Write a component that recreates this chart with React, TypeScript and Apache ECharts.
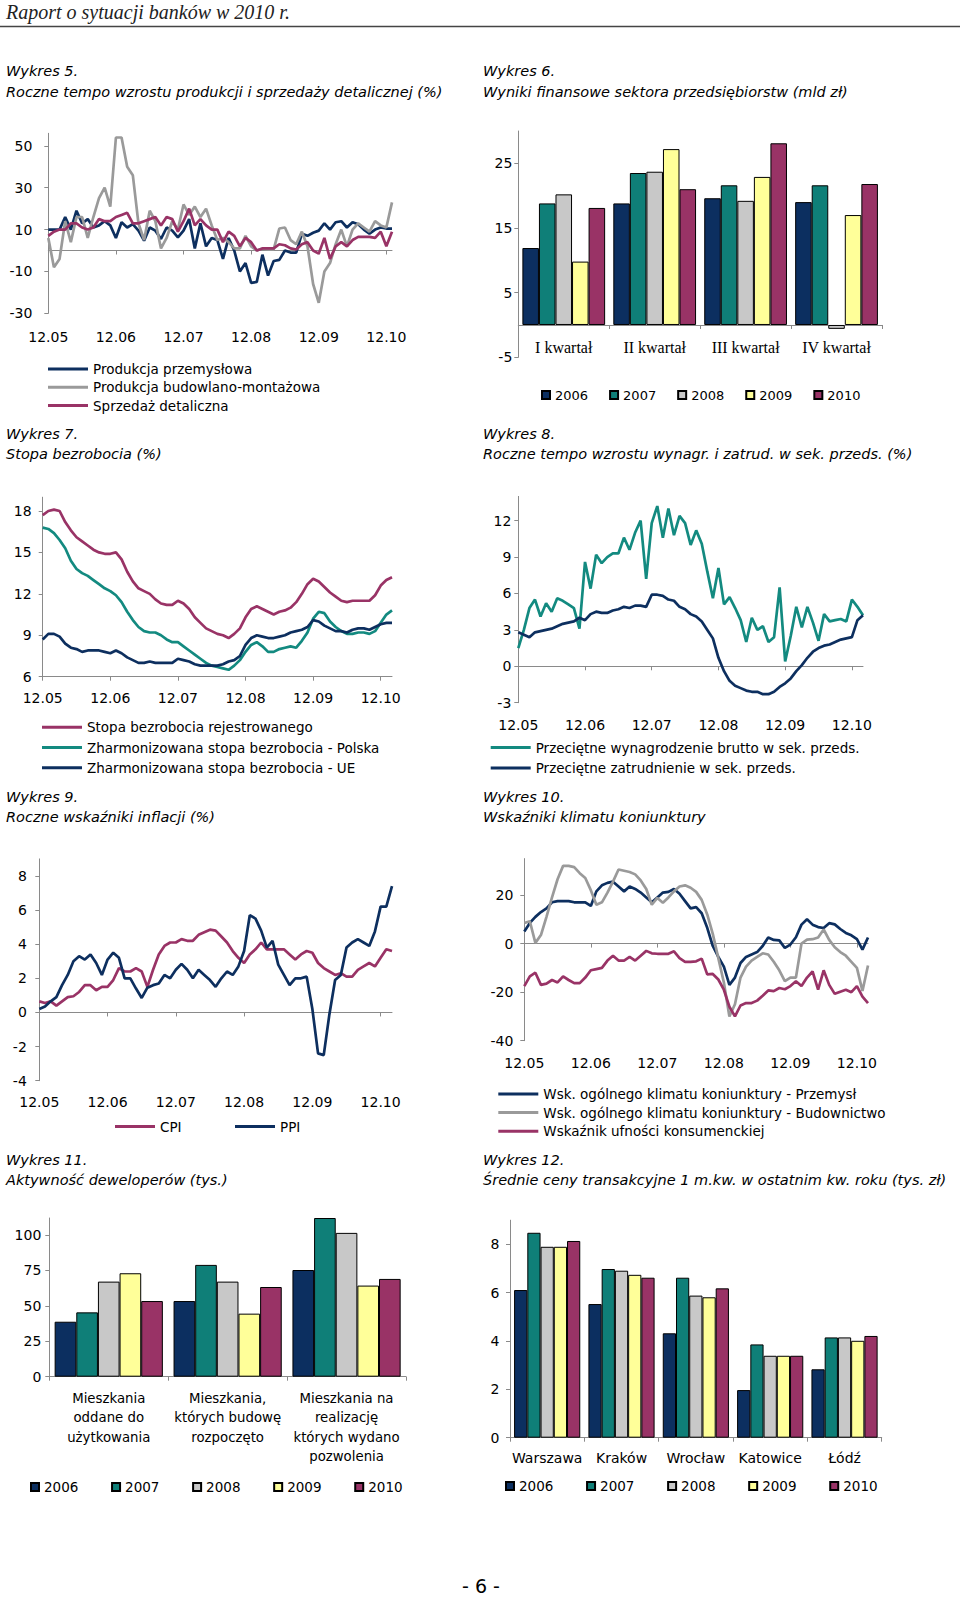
import React, { useEffect, useRef } from "react";
import * as echarts from "echarts";

const FONT = "DejaVu Sans";
const AXIS_COLOR = "#8a8a8a";
const NAVY = "#0d2f5f";
const GRAY_LINE = "#9a9a9a";
const MAROON = "#993366";
const TEAL = "#138a80";
const BAR_COLORS = ["#0c2f60", "#0f7f78", "#c8c8c8", "#ffff99", "#993366"];

const MONTHS = [
  "12.05",
  "01.06", "02.06", "03.06", "04.06", "05.06", "06.06", "07.06", "08.06", "09.06", "10.06", "11.06", "12.06",
  "01.07", "02.07", "03.07", "04.07", "05.07", "06.07", "07.07", "08.07", "09.07", "10.07", "11.07", "12.07",
  "01.08", "02.08", "03.08", "04.08", "05.08", "06.08", "07.08", "08.08", "09.08", "10.08", "11.08", "12.08",
  "01.09", "02.09", "03.09", "04.09", "05.09", "06.09", "07.09", "08.09", "09.09", "10.09", "11.09", "12.09",
  "01.10", "02.10", "03.10", "04.10", "05.10", "06.10", "07.10", "08.10", "09.10", "10.10", "11.10", "12.10",
  "01.11", "02.11",
];
// Wykres 5 ends one month earlier (01.11)
const MONTHS_W5 = [
  "12.05",
  "01.06", "02.06", "03.06", "04.06", "05.06", "06.06", "07.06", "08.06", "09.06", "10.06", "11.06", "12.06",
  "01.07", "02.07", "03.07", "04.07", "05.07", "06.07", "07.07", "08.07", "09.07", "10.07", "11.07", "12.07",
  "01.08", "02.08", "03.08", "04.08", "05.08", "06.08", "07.08", "08.08", "09.08", "10.08", "11.08", "12.08",
  "01.09", "02.09", "03.09", "04.09", "05.09", "06.09", "07.09", "08.09", "09.09", "10.09", "11.09", "12.09",
  "01.10", "02.10", "03.10", "04.10", "05.10", "06.10", "07.10", "08.10", "09.10", "10.10", "11.10", "12.10",
  "01.11",
];

// Wykres 5
const PROD_PRZEM = [
  10, 10, 10, 16, 10, 19, 13, 15, 11, 12,
  14, 12, 6, 13.5, 11, 12.6, 9.5, 4.7, 11, 9.5,
  5.5, 11, 9.5, 6.3, 9.5, 15, 1, 13, 2, 6,
  5, -4, 6, 0, -10, -6, -15.5, -15, -2, -12,
  -5, -4.5, 0, -1, -1, 8, 7, 8.5, 9.5,
  13, 10, 13.5, 14, 11, 13.5, 12.5, 10, 8, 10,
  11, 10.5, 10.5,
];
const PROD_BUD = [
  6, -8, -4, 14, 4, 16, 16, 6, 16, 25,
  30, 21, 54, 54, 40, 36, 13, 5, 19, 14,
  1, 6, 14, 10, 22, 17, 21, 16, 20, 12,
  5, 6, 4, 1, 1, 7, 2, 0, 1, 0.5,
  0.5, 10.5, 11, 5, 3, 9, 2, -16, -25,
  -10, -6, 3, 10, 2, 10, 13, 11, 9, 14,
  12, 11, 23,
];
const SPRZEDAZ = [
  7, 9, 10, 10, 13, 13, 11, 10, 11, 15,
  14, 14, 16, 17, 18, 13, 13, 14, 15, 16,
  12, 16, 15, 9, 14, 20, 12, 15, 12, 10,
  10, 4, 9, 7, 2, 6, 4, 0, 1, 1,
  1, 3, 2.5, 1, 0.5, 3, 4, 0, -1.5,
  6, -4, 2, 4, 2, 5, 6.5, 6.5, 6.5, 6,
  9, 2, 9,
];

// Wykres 6
const KWARTALY = ["I kwartał", "II kwartał", "III kwartał", "IV kwartał"];
const YEARS = ["2006", "2007", "2008", "2009", "2010"];
const WYNIKI_2006 = [11.9, 18.8, 19.6, 19.0];
const WYNIKI_2007 = [18.8, 23.5, 21.6, 21.6];
const WYNIKI_2008 = [20.2, 23.7, 19.2, -0.6];
const WYNIKI_2009 = [9.8, 27.2, 22.9, 17.0];
const WYNIKI_2010 = [18.1, 21.0, 28.1, 21.8];

// Wykres 7
const STOPA_REJ = [
  17.7, 18.0, 18.1, 18.0, 17.2, 16.6, 16.1, 15.8, 15.5, 15.2,
  15.0, 14.9, 14.9, 15.0, 14.5, 13.6, 12.9, 12.4, 12.2, 12.0,
  11.6, 11.3, 11.2, 11.2, 11.5, 11.3, 10.9, 10.3, 9.9, 9.5,
  9.3, 9.1, 9.0, 8.8, 9.1, 9.5, 10.3, 10.9, 11.1, 10.9,
  10.7, 10.5, 10.7, 10.8, 11.0, 11.4, 12.0, 12.7, 13.1, 12.9,
  12.5, 12.1, 11.8, 11.5, 11.4, 11.5, 11.5, 11.5, 11.5, 11.9,
  12.6, 13.0, 13.2,
];
const HICP_PL = [
  16.8, 16.7, 16.4, 15.9, 15.3, 14.4, 13.8, 13.5, 13.3, 13.0,
  12.7, 12.4, 12.2, 11.9, 11.4, 10.7, 10.1, 9.6, 9.3, 9.2,
  9.2, 9.0, 8.7, 8.5, 8.5, 8.2, 7.9, 7.6, 7.3, 7.0,
  6.8, 6.7, 6.6, 6.5, 6.8, 7.2, 7.8, 8.3, 8.5, 8.2,
  7.8, 7.8, 8.0, 8.1, 8.2, 8.1, 8.6, 9.2, 10.2, 10.7,
  10.6, 10.0, 9.6, 9.3, 9.1, 9.1, 9.2, 9.2, 9.1, 9.3,
  9.9, 10.5, 10.8,
];
const HICP_UE = [
  8.7, 9.1, 9.1, 8.9, 8.4, 8.1, 8.0, 7.8, 7.9, 7.9,
  7.9, 7.8, 7.7, 7.9, 7.7, 7.4, 7.2, 7.0, 7.0, 7.1,
  7.0, 7.0, 7.0, 7.0, 7.3, 7.2, 7.1, 6.9, 6.8, 6.8,
  6.8, 6.8, 6.9, 7.1, 7.2, 7.5, 8.3, 8.8, 9.0, 8.9,
  8.8, 8.8, 8.9, 9.0, 9.2, 9.3, 9.4, 9.6, 10.1, 10.0,
  9.7, 9.5, 9.3, 9.3, 9.2, 9.4, 9.5, 9.5, 9.4, 9.6,
  9.8, 9.9, 9.9,
];

// Wykres 8
const WYNAGR = [
  1.5, 3.0, 4.8, 5.5, 4.1, 5.2, 4.5, 5.6, 5.4, 5.1,
  4.8, 3.1, 8.6, 6.4, 9.2, 8.5, 9.0, 9.3, 9.3, 10.6,
  9.6, 11.0, 12.0, 7.2, 11.8, 13.2, 10.6, 13.0, 10.8, 12.4,
  11.8, 10.0, 11.2, 10.1, 7.8, 5.6, 8.1, 5.1, 5.7, 4.8,
  3.8, 2.0, 4.0, 3.0, 3.3, 2.0, 2.4, 6.5, 0.4, 2.5,
  4.9, 3.2, 4.9, 3.6, 2.1, 4.3, 3.7, 3.8, 3.9, 3.7,
  5.5, 4.9, 4.2,
];
const ZATRUD = [
  2.8, 2.6, 2.4, 2.8, 2.9, 3.0, 3.1, 3.3, 3.5, 3.6,
  3.7, 4.0, 3.8, 4.3, 4.5, 4.4, 4.4, 4.6, 4.7, 4.9,
  4.8, 5.0, 5.0, 4.9, 5.9, 5.9, 5.8, 5.5, 5.4, 4.9,
  4.7, 4.3, 4.1, 3.7, 3.0, 2.3, 0.7, -0.4, -1.2, -1.6,
  -1.8, -2.0, -2.1, -2.1, -2.3, -2.3, -2.1, -1.7, -1.4, -1.0,
  -0.4, 0.1, 0.7, 1.2, 1.5, 1.7, 1.8, 2.0, 2.2, 2.3,
  2.4, 3.8, 4.2,
];

// Wykres 9
const CPI = [
  0.65, 0.55, 0.65, 0.4, 0.65, 0.9, 0.95, 1.2, 1.6, 1.6,
  1.3, 1.5, 1.5, 1.9, 2.6, 2.4, 2.4, 2.6, 2.4, 1.5,
  2.5, 3.4, 3.9, 4.1, 4.1, 4.3, 4.2, 4.2, 4.55, 4.7,
  4.85, 4.8, 4.45, 4.1, 3.6, 3.2, 2.9, 3.4, 3.7, 4.1,
  3.7, 3.7, 3.7, 3.7, 3.4, 3.1, 3.4, 3.6, 3.5, 2.9,
  2.6, 2.4, 2.2, 2.3, 2.1, 2.1, 2.5, 2.7, 2.9, 2.7,
  3.2, 3.7, 3.6,
];
const PPI = [
  0.2, 0.35, 0.65, 0.9, 1.6, 2.2, 3.0, 3.3, 3.1, 3.4,
  2.9, 2.2, 3.1, 3.5, 3.2, 2.0, 2.0, 1.4, 0.85, 1.45,
  1.6, 1.7, 2.2, 2.0, 2.5, 2.85, 2.5, 2.0, 2.5, 2.2,
  1.9, 1.5, 2.0, 2.4, 2.2, 2.7, 3.6, 5.7, 5.5, 4.8,
  3.8, 4.2, 2.8, 2.2, 1.6, 2.0, 2.0, 2.1, 0.2, -2.4,
  -2.5, -0.1, 1.9, 2.2, 3.8, 4.1, 4.3, 4.1, 3.9, 4.75,
  6.2, 6.2, 7.4,
];

// Wykres 10
const KLIMAT_PRZEM = [
  5, 8.5, 11, 13, 14.5, 17, 17.5, 17.5, 17.5, 17,
  17, 17, 15.5, 21.5, 24, 25, 25.5, 23.5, 21.5, 23.5,
  22.5, 21, 19, 17, 19, 21, 21.3, 22.5, 20.5, 17.5,
  14.5, 15, 12.5, 6.5, -1, -5.5, -9.5, -17, -14, -8,
  -5.5, -4.5, -3.5, -1, 2.5, 1.5, 1.3, -1.8, -0.4, 2.6,
  7.8, 10, 7.8, 6.8, 6.4, 8.4, 7.9, 6, 4.4, 3.4,
  1.8, -2.5, 2.5,
];
const KLIMAT_BUD = [
  8.5, 9.2, 0.3, 3.5, 11, 19, 26.5, 32, 32, 31.5,
  29, 27, 22, 16, 17, 21, 25.5, 30.5, 30, 29.5,
  28.5, 26, 22.5, 16, 18.8, 16.8, 19, 21.5, 23.5, 24,
  23, 21.3, 18, 12, 4, -6, -16, -30, -25, -14,
  -9.5, -7, -5.5, -4, -4.5, -7.5, -11, -15.5, -14, -14,
  0, 1.6, 1.8, 2.5, 5.8, 1.5, -1.5, -3.5, -5, -7.5,
  -10, -19.5, -9,
];
const UFNOSC = [
  -17.5, -13.5, -12, -17, -16.5, -15, -16, -13.5, -15, -16.3,
  -16.3, -14, -11, -10.5, -10, -7, -5, -7, -7, -5.5,
  -7, -5, -3, -4, -4.2, -4.2, -4.2, -3.2, -6, -7.5,
  -7.5, -7.3, -6.2, -12.7, -12.5, -14.8, -19, -26, -30, -25.5,
  -24.5, -24.5, -23.5, -21.5, -19.3, -19.6, -18.3, -18.8, -17.5, -15.5,
  -17.5, -14, -11.5, -19, -11, -17, -20.7, -19.8, -19, -20,
  -17.5, -21.8, -24.5,
];

// Wykres 11
const MIESZKANIA = [
  "Mieszkania\noddane do\nużytkowania",
  "Mieszkania,\nktórych budowę\nrozpoczęto",
  "Mieszkania na\nrealizację\nktórych wydano\npozwolenia",
];
const DEW_2006 = [38.8, 53.4, 75.3];
const DEW_2007 = [45.4, 78.9, 112];
const DEW_2008 = [67.1, 67.1, 101.5];
const DEW_2009 = [73.0, 44.5, 64.3];
const DEW_2010 = [53.4, 63.3, 69.0];

// Wykres 12
const MIASTA = ["Warszawa", "Kraków", "Wrocław", "Katowice", "Łódź"];
const CENY_2006 = [6.11, 5.53, 4.32, 1.97, 2.83];
const CENY_2007 = [8.48, 6.98, 6.62, 3.86, 4.15];
const CENY_2008 = [7.9, 6.91, 5.88, 3.39, 4.15];
const CENY_2009 = [7.9, 6.74, 5.81, 3.39, 4.01];
const CENY_2010 = [8.14, 6.62, 6.18, 3.39, 4.21];

function valueAxis(gridIndex: number, min: number, max: number, interval: number, margin: number) {
  return {
    type: "value",
    gridIndex,
    min,
    max,
    interval,
    axisLine: { show: true, lineStyle: { color: AXIS_COLOR, width: 1 } },
    axisTick: { show: true, length: 4, lineStyle: { color: AXIS_COLOR } },
    splitLine: { show: false },
    axisLabel: { showMaxLabel: false, color: "#000", fontFamily: FONT, fontSize: 14, margin },
  };
}

function monthLabelAxis(gridIndex: number, margin: number, data: string[]) {
  return {
    type: "category",
    gridIndex,
    data,
    boundaryGap: false,
    position: "bottom",
    axisLine: { show: false, onZero: false },
    axisTick: { show: false },
    axisLabel: { interval: 11, color: "#000", fontFamily: FONT, fontSize: 14, margin },
    splitLine: { show: false },
  };
}

function monthZeroAxis(gridIndex: number, data: string[]) {
  return {
    type: "category",
    gridIndex,
    data,
    boundaryGap: false,
    position: "bottom",
    axisLine: { show: true, onZero: true, lineStyle: { color: AXIS_COLOR, width: 1 } },
    axisTick: { show: true, interval: 11, length: 4, lineStyle: { color: AXIS_COLOR } },
    axisLabel: { show: false },
    splitLine: { show: false },
  };
}

function monthFullAxis(gridIndex: number, margin: number) {
  return {
    type: "category",
    gridIndex,
    data: MONTHS,
    boundaryGap: false,
    position: "bottom",
    axisLine: { show: true, onZero: false, lineStyle: { color: AXIS_COLOR, width: 1 } },
    axisTick: { show: true, interval: 11, length: 4, lineStyle: { color: AXIS_COLOR } },
    axisLabel: { interval: 11, color: "#000", fontFamily: FONT, fontSize: 14, margin },
    splitLine: { show: false },
  };
}

function catAxis(gridIndex: number, data: string[], label: any) {
  return {
    type: "category",
    gridIndex,
    data,
    position: "bottom",
    axisLine: { show: true, onZero: true, lineStyle: { color: AXIS_COLOR, width: 1 } },
    axisTick: { show: true, length: 4, lineStyle: { color: AXIS_COLOR } },
    axisLabel: Object.assign({ color: "#000", interval: 0 }, label),
    splitLine: { show: false },
  };
}

function catLabelOnlyAxis(gridIndex: number, data: string[], label: any) {
  return {
    type: "category",
    gridIndex,
    data,
    position: "bottom",
    axisLine: { show: false, onZero: false },
    axisTick: { show: false },
    axisLabel: Object.assign({ color: "#000", interval: 0 }, label),
    splitLine: { show: false },
  };
}

function lineSeries(name: string, data: number[], color: string, xi: number, yi: number) {
  return {
    type: "line",
    name,
    data,
    xAxisIndex: xi,
    yAxisIndex: yi,
    symbol: "none",
    showSymbol: false,
    color,
    lineStyle: { color, width: 2.7 },
    itemStyle: { color },
    emphasis: { disabled: true },
    z: 3,
  };
}

function barSeries(name: string, data: number[], color: string, xi: number, yi: number, catGap: string) {
  return {
    type: "bar",
    name,
    data,
    xAxisIndex: xi,
    yAxisIndex: yi,
    barGap: "0%",
    barCategoryGap: catGap,
    color,
    itemStyle: { color, borderColor: "#000", borderWidth: 1 },
    emphasis: { disabled: true },
  };
}

function lineLegend(names: string[], left: number, top: number, gap: number) {
  return {
    orient: "vertical",
    left,
    top,
    padding: 0,
    itemGap: gap,
    itemWidth: 40,
    itemHeight: 3,
    icon: "rect",
    selectedMode: false,
    data: names,
    itemStyle: { borderWidth: 0 },
    textStyle: { fontFamily: FONT, fontSize: 13.5, color: "#000", lineHeight: 14 },
  };
}

function barLegend(left: number, top: number, gap: number, fontSize: number) {
  return {
    orient: "horizontal",
    left,
    top,
    padding: 0,
    itemGap: gap,
    itemWidth: 8,
    itemHeight: 8,
    icon: "rect",
    selectedMode: false,
    data: YEARS,
    textStyle: { fontFamily: FONT, fontSize, color: "#000", lineHeight: 14 },
  };
}

function titleText(text: string, x: number, y: number) {
  return {
    type: "text",
    x,
    y,
    silent: true,
    style: {
      text,
      fill: "#000",
      fontFamily: FONT,
      fontSize: 14.5,
      fontStyle: "italic",
      verticalAlign: "middle",
      align: "left",
    },
  };
}

function buildOption() {
  const grids = [
    { left: 48.3, top: 133.3, width: 343.7, height: 180 },
    { left: 518.3, top: 131, width: 363.7, height: 226.3 },
    { left: 42.7, top: 497.2, width: 349.3, height: 179.5 },
    { left: 518.3, top: 496.4, width: 344.7, height: 206.3 },
    { left: 39.3, top: 858.9, width: 352.7, height: 221.8 },
    { left: 524.3, top: 858.6, width: 343.7, height: 182.1 },
    { left: 49.3, top: 1218, width: 356.7, height: 158.7 },
    { left: 510, top: 1220.2, width: 371.7, height: 217.5 },
  ];

  const yAxes = [
    valueAxis(0, -30, 56, 20, 16),
    valueAxis(1, -5, 30, 10, 6),
    valueAxis(2, 6, 19, 3, 11),
    valueAxis(3, -3, 14, 3, 7),
    valueAxis(4, -4, 9, 2, 12.5),
    valueAxis(5, -40, 35, 20, 11),
    valueAxis(6, 0, 112, 25, 8),
    valueAxis(7, 0, 9, 2, 10.5),
  ];

  const xAxes = [
    monthLabelAxis(0, 16.5, MONTHS_W5), // 0
    monthZeroAxis(0, MONTHS_W5), // 1
    catAxis(1, KWARTALY, { show: false }), // 2
    monthFullAxis(2, 14), // 3
    monthLabelAxis(3, 15, MONTHS), // 4
    monthZeroAxis(3, MONTHS), // 5
    monthLabelAxis(4, 14, MONTHS), // 6
    monthZeroAxis(4, MONTHS), // 7
    monthLabelAxis(5, 15.5, MONTHS), // 8
    monthZeroAxis(5, MONTHS), // 9
    catAxis(6, MIESZKANIA, { fontFamily: FONT, fontSize: 13.3, lineHeight: 19.4, margin: 12 }), // 10
    catAxis(7, MIASTA, { fontFamily: FONT, fontSize: 14, margin: 13.5 }), // 11
    catLabelOnlyAxis(1, KWARTALY, { fontFamily: "Liberation Serif", fontSize: 16, margin: -18 }), // 12
  ];

  const series: any[] = [
    lineSeries("Produkcja przemysłowa", PROD_PRZEM, NAVY, 0, 0),
    lineSeries("Produkcja budowlano-montażowa", PROD_BUD, GRAY_LINE, 0, 0),
    lineSeries("Sprzedaż detaliczna", SPRZEDAZ, MAROON, 0, 0),

    barSeries(YEARS[0], WYNIKI_2006, BAR_COLORS[0], 2, 1, "9%"),
    barSeries(YEARS[1], WYNIKI_2007, BAR_COLORS[1], 2, 1, "9%"),
    barSeries(YEARS[2], WYNIKI_2008, BAR_COLORS[2], 2, 1, "9%"),
    barSeries(YEARS[3], WYNIKI_2009, BAR_COLORS[3], 2, 1, "9%"),
    barSeries(YEARS[4], WYNIKI_2010, BAR_COLORS[4], 2, 1, "9%"),

    lineSeries("Stopa bezrobocia rejestrowanego", STOPA_REJ, MAROON, 3, 2),
    lineSeries("Zharmonizowana stopa bezrobocia - Polska", HICP_PL, TEAL, 3, 2),
    lineSeries("Zharmonizowana stopa bezrobocia - UE", HICP_UE, NAVY, 3, 2),

    lineSeries("Przeciętne wynagrodzenie brutto w sek. przeds.", WYNAGR, TEAL, 4, 3),
    lineSeries("Przeciętne zatrudnienie w sek. przeds.", ZATRUD, NAVY, 4, 3),

    lineSeries("CPI", CPI, MAROON, 6, 4),
    lineSeries("PPI", PPI, NAVY, 6, 4),

    lineSeries("Wsk. ogólnego klimatu koniunktury - Przemysł", KLIMAT_PRZEM, NAVY, 8, 5),
    lineSeries("Wsk. ogólnego klimatu koniunktury - Budownictwo", KLIMAT_BUD, GRAY_LINE, 8, 5),
    lineSeries("Wskaźnik ufności konsumenckiej", UFNOSC, MAROON, 8, 5),

    barSeries(YEARS[0], DEW_2006, BAR_COLORS[0], 10, 6, "9%"),
    barSeries(YEARS[1], DEW_2007, BAR_COLORS[1], 10, 6, "9%"),
    barSeries(YEARS[2], DEW_2008, BAR_COLORS[2], 10, 6, "9%"),
    barSeries(YEARS[3], DEW_2009, BAR_COLORS[3], 10, 6, "9%"),
    barSeries(YEARS[4], DEW_2010, BAR_COLORS[4], 10, 6, "9%"),

    barSeries(YEARS[0], CENY_2006, BAR_COLORS[0], 11, 7, "11%"),
    barSeries(YEARS[1], CENY_2007, BAR_COLORS[1], 11, 7, "11%"),
    barSeries(YEARS[2], CENY_2008, BAR_COLORS[2], 11, 7, "11%"),
    barSeries(YEARS[3], CENY_2009, BAR_COLORS[3], 11, 7, "11%"),
    barSeries(YEARS[4], CENY_2010, BAR_COLORS[4], 11, 7, "11%"),
  ];

  const legends = [
    lineLegend(["Produkcja przemysłowa", "Produkcja budowlano-montażowa", "Sprzedaż detaliczna"], 48, 362, 4.3),
    barLegend(541, 388, 21, 13),
    lineLegend(
      ["Stopa bezrobocia rejestrowanego", "Zharmonizowana stopa bezrobocia - Polska", "Zharmonizowana stopa bezrobocia - UE"],
      42,
      720.3,
      6.2
    ),
    lineLegend(["Przeciętne wynagrodzenie brutto w sek. przeds.", "Przeciętne zatrudnienie w sek. przeds."], 490.7, 740.5, 6.5),
    lineLegend(["CPI"], 115, 1119.5, 0),
    lineLegend(["PPI"], 235, 1119.5, 0),
    lineLegend(
      [
        "Wsk. ogólnego klimatu koniunktury - Przemysł",
        "Wsk. ogólnego klimatu koniunktury - Budownictwo",
        "Wskaźnik ufności konsumenckiej",
      ],
      498.3,
      1087,
      4.6
    ),
    barLegend(30, 1480, 32.7, 13.5),
    barLegend(505, 1479, 32.7, 13.5),
  ];

  const graphic: any[] = [
    {
      type: "text",
      x: 6,
      y: 12.2,
      silent: true,
      style: {
        text: "Raport o sytuacji banków w 2010 r.",
        fill: "#222",
        fontFamily: "Liberation Serif",
        fontSize: 20,
        fontStyle: "italic",
        verticalAlign: "middle",
        align: "left",
      },
    },
    {
      type: "line",
      silent: true,
      shape: { x1: 0, y1: 26.5, x2: 960, y2: 26.5 },
      style: { stroke: "#444", lineWidth: 1.5 },
    },
    titleText("Wykres 5.", 6, 71),
    titleText("Roczne tempo wzrostu produkcji i sprzedaży detalicznej (%)", 6, 91.5),
    titleText("Wykres 6.", 483, 71),
    titleText("Wyniki finansowe sektora przedsiębiorstw (mld zł)", 483, 91.5),
    titleText("Wykres 7.", 6, 433.8),
    titleText("Stopa bezrobocia (%)", 6, 453.8),
    titleText("Wykres 8.", 483, 433.8),
    titleText("Roczne tempo wzrostu wynagr. i zatrud. w sek. przeds. (%)", 483, 453.8),
    titleText("Wykres 9.", 6, 797.3),
    titleText("Roczne wskaźniki inflacji (%)", 6, 817),
    titleText("Wykres 10.", 483, 797.3),
    titleText("Wskaźniki klimatu koniunktury", 483, 817),
    titleText("Wykres 11.", 6, 1160.3),
    titleText("Aktywność deweloperów (tys.)", 6, 1179.5),
    titleText("Wykres 12.", 483, 1160.3),
    titleText("Średnie ceny transakcyjne 1 m.kw. w ostatnim kw. roku (tys. zł)", 483, 1179.5),
    {
      type: "text",
      x: 481,
      y: 1586,
      silent: true,
      style: {
        text: "- 6 -",
        fill: "#000",
        fontFamily: FONT,
        fontSize: 19,
        verticalAlign: "middle",
        align: "center",
      },
    },
  ];

  return {
    animation: false,
    backgroundColor: "#ffffff",
    textStyle: { fontFamily: FONT },
    grid: grids,
    xAxis: xAxes,
    yAxis: yAxes,
    legend: legends,
    series,
    graphic,
  };
}

export default function App() {
  const ref = useRef<HTMLDivElement>(null);
  useEffect(() => {
    if (!ref.current) return;
    const chart = echarts.init(ref.current, null, { renderer: "svg" });
    chart.setOption(buildOption() as any);
    return () => {
      chart.dispose();
    };
  }, []);
  return (
    <div
      ref={ref}
      style={{ position: "absolute", left: 0, top: 0, width: 960, height: 1601, background: "#fff" }}
    />
  );
}
